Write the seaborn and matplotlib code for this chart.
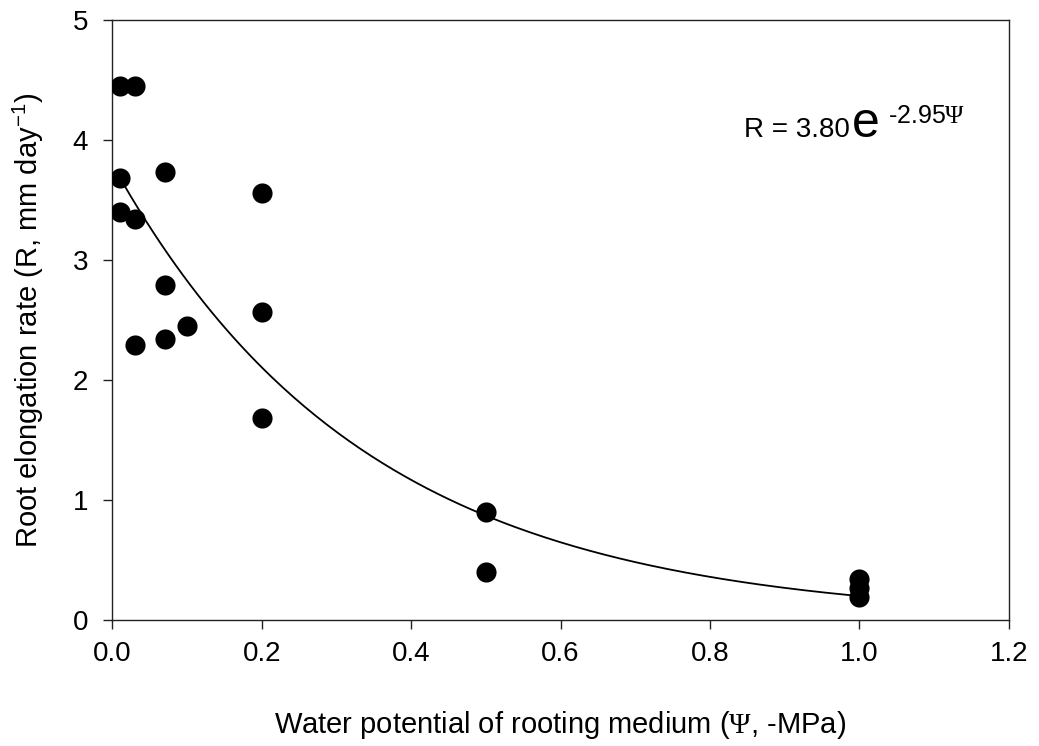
import matplotlib
matplotlib.use('Agg')
import matplotlib.pyplot as plt
import pandas as pd
import seaborn as sns
import numpy as np

# Water potential (-MPa) and root elongation rate (mm/day)
PSI = [0.01, 0.03, 0.01, 0.07, 0.2, 0.01, 0.03, 0.07, 0.2, 0.1, 0.07, 0.03, 0.2,
       0.5, 0.5, 1.0, 1.0, 1.0]
RATE = [4.45, 4.45, 3.68, 3.73, 3.56, 3.40, 3.34, 2.79, 2.57, 2.45, 2.34, 2.29, 1.68,
        0.90, 0.40, 0.34, 0.27, 0.19]

# fitted model printed on the chart: R = A * exp(B * psi)
FIT_A = 3.80
FIT_B = -2.95

X_TICKS = [0.0, 0.2, 0.4, 0.6, 0.8, 1.0, 1.2]
Y_TICKS = [0, 1, 2, 3, 4, 5]

sns.set_style('ticks')
plt.rcParams['font.family'] = ['Liberation Sans', 'DejaVu Sans']
plt.rcParams['text.color'] = 'black'
plt.rcParams['axes.labelcolor'] = 'black'
plt.rcParams['xtick.color'] = 'black'
plt.rcParams['ytick.color'] = 'black'
plt.rcParams['mathtext.fontset'] = 'custom'
plt.rcParams['mathtext.rm'] = 'Liberation Serif'
plt.rcParams['mathtext.sf'] = 'Liberation Sans'

points = pd.DataFrame({'psi': PSI, 'rate': RATE})
fit_x = np.linspace(0.015, 1.0, 200)
fit = pd.DataFrame({'psi': fit_x, 'rate': FIT_A * np.exp(FIT_B * fit_x)})

fig = plt.figure(figsize=(10.39, 7.46), dpi=100)
ax = fig.add_axes([0.108, 0.169, 0.863, 0.804])

sns.lineplot(data=fit, x='psi', y='rate', color='black', linewidth=1.3, ax=ax)
sns.scatterplot(data=points, x='psi', y='rate', color='black', s=210,
                edgecolor='black', linewidth=0, zorder=3, ax=ax)

ax.set_xlim(0, 1.2)
ax.set_ylim(0, 5)
ax.set_xticks(X_TICKS)
ax.set_xticklabels([f'{t:.1f}' for t in X_TICKS])
ax.set_yticks(Y_TICKS)
ax.tick_params(axis='both', direction='out', length=6.5, width=1, labelsize=20,
               color='#222222')
ax.tick_params(axis='x', pad=9)
ax.tick_params(axis='y', pad=11)
for side in ['top', 'right', 'left', 'bottom']:
    ax.spines[side].set_visible(True)
    ax.spines[side].set_color('#222222')
    ax.spines[side].set_linewidth(1)

ax.set_xlabel(r'Water potential of rooting medium ($\Psi$, -MPa)', fontsize=21)
ax.set_ylabel(r'Root elongation rate (R, mm day$^{\mathsf{-1}}$)', fontsize=21)
ax.xaxis.set_label_coords(0.5, -0.148)
ax.yaxis.set_label_coords(-0.0736, 0.5)

# equation label, built from pieces so the "e" can be larger
ax.text(0.845, 4.025, 'R = 3.80', fontsize=20, va='baseline', ha='left')
ax.text(0.990, 4.025, 'e', fontsize=36, va='baseline', ha='left')
ax.text(1.038, 4.14, r'-2.95$\Psi$', fontsize=18, va='baseline', ha='left')

fig.savefig('out.png', dpi=100)
